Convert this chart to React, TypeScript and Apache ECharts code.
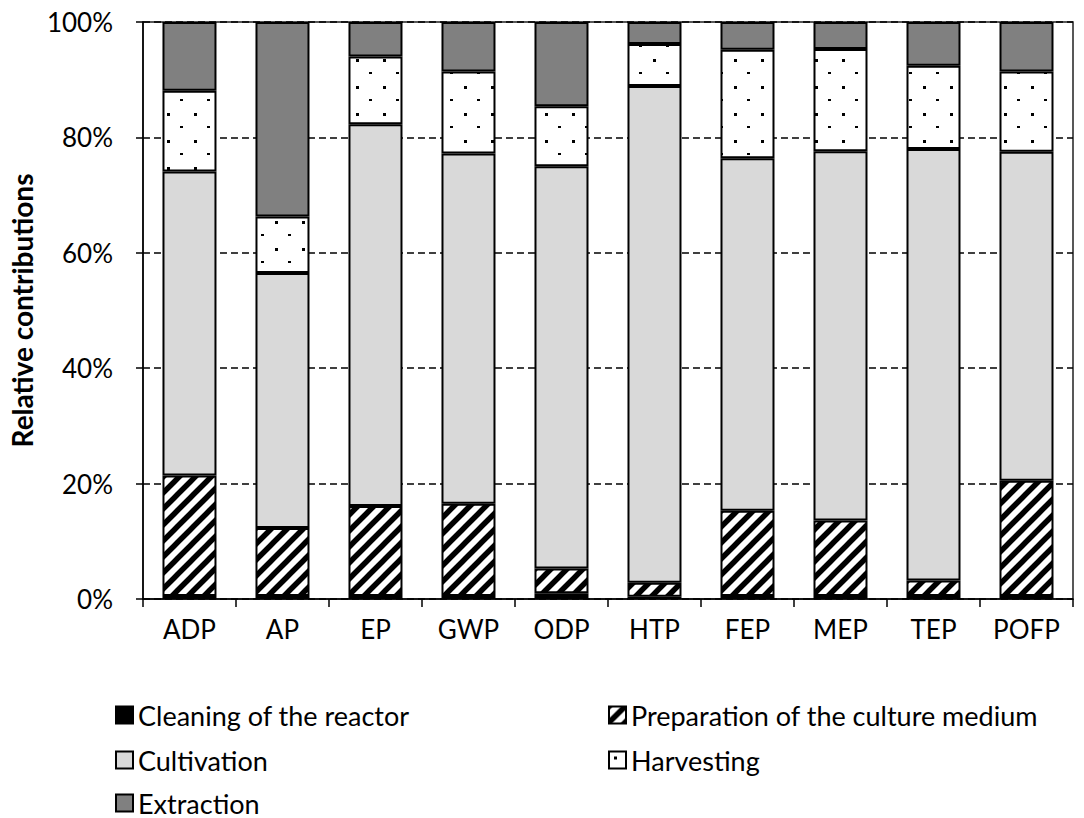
import React, { useEffect, useRef } from "react";
import * as echarts from "echarts";

const categories = ["ADP", "AP", "EP", "GWP", "ODP", "HTP", "FEP", "MEP", "TEP", "POFP"];
const seriesNames = [
  "Cleaning of the reactor",
  "Preparation of the culture medium",
  "Cultivation",
  "Harvesting",
  "Extraction",
];
const cleaning = [0.5, 0.5, 0.5, 0.5, 1.0, 0.4, 0.5, 0.5, 0.5, 0.5];
const preparation = [20.9, 11.8, 15.6, 16.0, 4.3, 2.4, 14.8, 13.1, 2.7, 20.0];
const cultivation = [52.7, 44.2, 66.2, 60.7, 69.7, 86.1, 61.1, 64.0, 74.8, 57.0];
const harvesting = [14.0, 9.8, 11.7, 14.2, 10.4, 7.3, 18.8, 17.7, 14.4, 13.9];
const extraction = [11.9, 33.7, 6.0, 8.6, 14.6, 3.8, 4.8, 4.7, 7.6, 8.6];
const yTicks = [0, 20, 40, 60, 80, 100];

function hatchPattern() {
  const s = 16;
  const c = document.createElement("canvas");
  c.width = s;
  c.height = s;
  const g = c.getContext("2d")!;
  g.fillStyle = "#fff";
  g.fillRect(0, 0, s, s);
  g.strokeStyle = "#000";
  g.lineWidth = 5.5;
  g.beginPath();
  for (const o of [-s, 0, s]) {
    g.moveTo(o - 2, s + 2);
    g.lineTo(o + s + 2, -2);
  }
  g.stroke();
  return { image: c.toDataURL(), repeat: "repeat", imageWidth: s, imageHeight: s };
}

function dotPattern() {
  const s = 27;
  const c = document.createElement("canvas");
  c.width = s;
  c.height = s;
  const g = c.getContext("2d")!;
  g.fillStyle = "#fff";
  g.fillRect(0, 0, s, s);
  g.fillStyle = "#000";
  g.fillRect(5, 5, 3, 3);
  g.fillRect(18, 18, 3, 2);
  return { image: c.toDataURL(), repeat: "repeat", imageWidth: s, imageHeight: s };
}

export default function App() {
  const ref = useRef<HTMLDivElement>(null);
  useEffect(() => {
    if (!ref.current) return;
    const chart = echarts.init(ref.current, null, { renderer: "svg" });
    const font = "Lato";
    const fills: any[] = ["#000", hatchPattern(), "#d9d9d9", dotPattern(), "#808080"];
    const datas = [cleaning, preparation, cultivation, harvesting, extraction];
    const series = seriesNames.map((name, i) => ({
      name,
      type: "bar",
      stack: "total",
      barWidth: 54,
      data: datas[i],
      itemStyle: { color: fills[i], borderColor: "#000", borderWidth: 2 },
    }));
    const legendText = { fontFamily: font, fontSize: 27, color: "#000", lineHeight: 30 };
    const legendPos = [
      [110, 700],
      [603, 700],
      [110, 745],
      [603, 745],
      [110, 788],
    ];
    const legends = seriesNames.map((name, i) => ({
      data: [name],
      left: legendPos[i][0],
      top: legendPos[i][1],
      padding: [0, 5],
      icon: "rect",
      itemWidth: 17,
      itemHeight: 17,
      textStyle: legendText,
      selectedMode: false,
    }));
    chart.setOption({
      animation: false,
      backgroundColor: "#fff",
      grid: {
        left: 134,
        right: 11,
        top: 22,
        bottom: 219,
        show: true,
        borderColor: "#222",
        borderWidth: 1.5,
      },
      legend: legends,
      xAxis: {
        type: "category",
        data: categories,
        axisLine: { lineStyle: { color: "#000", width: 1.5 } },
        axisTick: { show: true, length: 8, lineStyle: { color: "#000", width: 1.5 } },
        axisLabel: { fontFamily: font, fontSize: 26, color: "#000", margin: 17 },
      },
      yAxis: {
        type: "value",
        min: yTicks[0],
        max: yTicks[yTicks.length - 1],
        interval: yTicks[1] - yTicks[0],
        name: "Relative contributions",
        nameLocation: "middle",
        nameGap: 102,
        nameTextStyle: { fontFamily: font, fontSize: 28, fontWeight: "bold", color: "#000" },
        axisLine: { show: true, lineStyle: { color: "#000", width: 1.5 } },
        axisTick: { show: true, length: 7, lineStyle: { color: "#000", width: 1.5 } },
        axisLabel: {
          fontFamily: font,
          fontSize: 26,
          color: "#000",
          margin: 30,
          formatter: "{value}%",
        },
        splitLine: { lineStyle: { color: "#000", type: [7, 4], width: 1.5 } },
      },
      series,
    });
    return () => chart.dispose();
  }, []);
  return <div ref={ref} style={{ width: 1084, height: 818, position: "absolute", left: 0, top: 0 }} />;
}
